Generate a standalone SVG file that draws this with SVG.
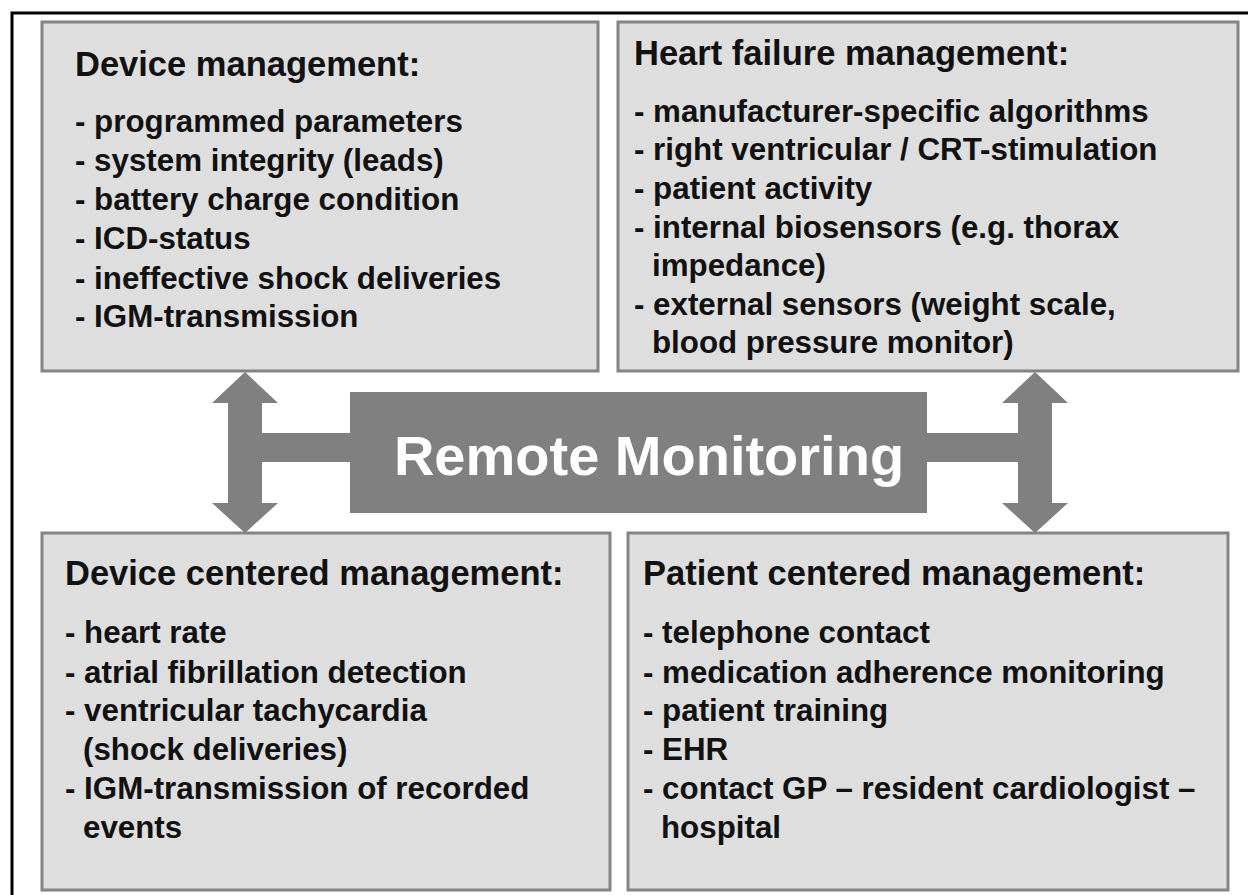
<svg xmlns="http://www.w3.org/2000/svg" width="1248" height="895" viewBox="0 0 1248 895">
<style>
.box{fill:#dedede;stroke:#848484;stroke-width:3}
.hd{font-family:"Liberation Sans",Arial,sans-serif;font-weight:bold;font-size:34.5px;fill:#111}
.it{font-family:"Liberation Sans",Arial,sans-serif;font-weight:bold;font-size:31.3px;fill:#111}
.arr{fill:#808080}
.title{font-family:"Liberation Sans",Arial,sans-serif;font-weight:bold;font-size:56px;fill:#fff}
</style>
<rect x="0" y="0" width="1248" height="895" fill="#fff"/>
<path d="M12,895 V13 H1248" fill="none" stroke="#000" stroke-width="3"/>
<g id="connectors">
<polygon class="arr" points="245,372 278,403 262,403 262,433 352,433 352,462 262,462 262,503 278,503 245,533 212,503 228,503 228,403 212,403"/>
<polygon class="arr" points="1035,372 1068,403 1052,403 1052,503 1068,503 1035,533 1002,503 1018,503 1018,462 925,462 925,433 1018,433 1018,403 1002,403"/>
</g>
<g id="remote-monitoring">
<rect x="350" y="392" width="577" height="121" fill="#808080"/>
<text class="title" x="649" y="475" text-anchor="middle">Remote Monitoring</text>
</g>
<g id="device-management">
<rect class="box" x="42" y="22" width="556" height="349"/>
<text class="hd" x="75" y="76">Device management:</text>
<text class="it" x="75" y="132">- programmed parameters</text>
<text class="it" x="75" y="171">- system integrity (leads)</text>
<text class="it" x="75" y="210">- battery charge condition</text>
<text class="it" x="75" y="249">- ICD-status</text>
<text class="it" x="75" y="289">- ineffective shock deliveries</text>
<text class="it" x="75" y="327">- IGM-transmission</text>
</g>
<g id="heart-failure-management">
<rect class="box" x="618" y="22" width="620" height="349"/>
<text class="hd" x="634" y="65">Heart failure management:</text>
<text class="it" x="634" y="122">- manufacturer-specific algorithms</text>
<text class="it" x="634" y="160">- right ventricular / CRT-stimulation</text>
<text class="it" x="634" y="199">- patient activity</text>
<text class="it" x="634" y="238">- internal biosensors (e.g. thorax</text>
<text class="it" x="652" y="276">impedance)</text>
<text class="it" x="634" y="315">- external sensors (weight scale,</text>
<text class="it" x="652" y="353">blood pressure monitor)</text>
</g>
<g id="device-centered-management">
<rect class="box" x="42" y="533" width="568" height="357"/>
<text class="hd" x="65" y="585">Device centered management:</text>
<text class="it" x="65" y="643">- heart rate</text>
<text class="it" x="65" y="683">- atrial fibrillation detection</text>
<text class="it" x="65" y="721">- ventricular tachycardia</text>
<text class="it" x="83" y="760">(shock deliveries)</text>
<text class="it" x="65" y="799">- IGM-transmission of recorded</text>
<text class="it" x="83" y="838">events</text>
</g>
<g id="patient-centered-management">
<rect class="box" x="628" y="533" width="600" height="357"/>
<text class="hd" x="643" y="585">Patient centered management:</text>
<text class="it" x="643" y="643">- telephone contact</text>
<text class="it" x="643" y="683">- medication adherence monitoring</text>
<text class="it" x="643" y="721">- patient training</text>
<text class="it" x="643" y="760">- EHR</text>
<text class="it" x="643" y="799">- contact GP – resident cardiologist –</text>
<text class="it" x="661" y="838">hospital</text>
</g>
</svg>
